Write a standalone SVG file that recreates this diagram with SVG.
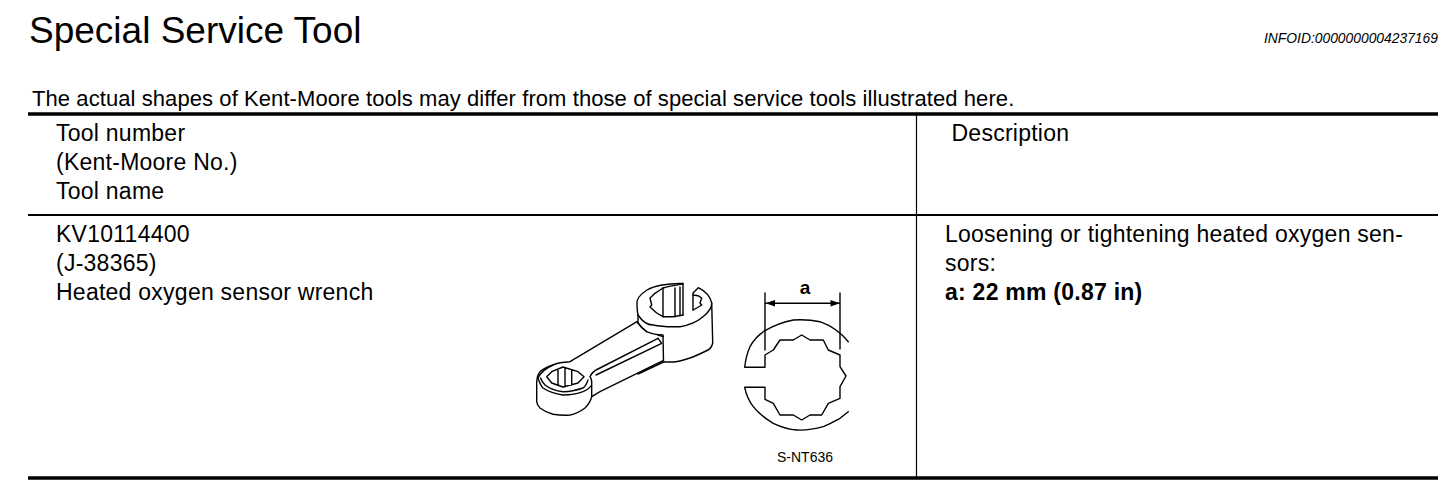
<svg xmlns="http://www.w3.org/2000/svg" width="1456" height="492" viewBox="0 0 1456 492">
<style>
text{font-family:"Liberation Sans",Arial,sans-serif;fill:#000}
.b{font-size:23px;letter-spacing:.25px}
.t{font-size:22px;letter-spacing:.08px}
.h{font-size:37px}
.l{fill:none;stroke:#000;stroke-width:1.4;stroke-linejoin:round;stroke-linecap:round}
</style>
<rect width="1456" height="492" fill="#fff"/>
<g id="heading"><text class="h" x="29" y="43">Special Service Tool</text>
<text x="1264" y="43" font-size="13.850" font-style="italic">INFOID:0000000004237169</text>
<text class="t" x="32" y="106">The actual shapes of Kent-Moore tools may differ from those of special service tools illustrated here.</text></g>
<g id="table"><path d="M28 114H1438M28 478H1438" stroke="#000" stroke-width="3.500"/><path d="M28 215H1438" stroke="#000" stroke-width="2"/><path d="M916.500 114V478" stroke="#000" stroke-width="1.200"/></g>
<g id="header-tool"><text class="b" x="56" y="141">Tool number</text><text class="b" x="56" y="170">(Kent-Moore No.)</text><text class="b" x="56" y="199">Tool name</text></g>
<g id="header-desc"><text class="b" x="951.500" y="141">Description</text></g>
<g id="row-tool"><text class="b" x="56" y="242">KV10114400</text><text class="b" x="56" y="271">(J-38365)</text><text class="b" x="56" y="300">Heated oxygen sensor wrench</text></g>
<g id="row-desc"><text class="b" x="945" y="242">Loosening or tightening heated oxygen sen-</text><text class="b" x="945" y="271">sors:</text><text class="b" x="945" y="300" font-weight="bold">a: 22 mm (0.87 in)</text></g>
<g id="wrench" class="l">
<path d="M683 283.500C668 283 654 286 647 290C639 295 636 300 637 305C637 310 638 315 638 315C642 321 648 325 653 325C662 327 671 327 680 326.700C690 325 698 321 703 316.700C709 312 712 308 711.700 303C710 296 705 291 698.300 287.700L693 293V310"/>
<path d="M683 283.500V315M680 287V315.500M675 288V316.700M663 288V316.700M663 288C670 286 677 285 683 284"/>
<path d="M663 288L655 293.300L650 298L651.700 305L650 307L656.700 313L663 316.700H673L683 315"/>
<path d="M693 295L698 295.700L701.700 298L700 303L701.700 305L696.700 308L693 310"/>
<path d="M711.700 303L712.700 343C712 346 710 349 708 350C702 353 696 356 690 358C684 360 678 362 673 362H663.500L638 374"/>
<path d="M638 315V323C640 326 643 329 646.700 331.700C652 334 658 335 663 335L663.500 362"/>
<path d="M637 321.700L570 361.700C563 362 557 363 553 365C547 367 543 369 540 371.700C538 374 537 378 536.700 381.700V401.700C537 404 538 406 540 408C544 411 548 413 553 414.300C558 415 564 415.500 570 415C576 414 581 411 585 408C589 404 591 400 591.700 396.700L600 391.700L663 360.700"/>
<path d="M591.700 385V396.700M538 378C540 384 541 386 543 388C549 392 556 394 563 395C570 395 577 394 583 391.700C587 390 590 388 591.700 385C592 381 591 378 590 376.700C592 372 594 371 597 369.500L658 338.300"/>
<path d="M538 378C541 372 546 368 553 365M540.700 378C541.500 381 543 383 545 385C550 389 556 391 563 391.700C570 392 577 390 583 388C586 386 587 383 588 380"/>
<path d="M546.700 376.700L551.700 371.700L563 367L578 371.700L584 376.700L578 383L563 387L551.700 383ZM558 370V385M565 368V387M571.700 370V385"/>
<path d="M596 375L661.700 343.300M658 338.300L661.700 343.300M663 336.700L658 335M637 321.700C640 326 643 329 646.700 331.700"/>
</g>
<g id="section"><path class="l" d="M765 293V350M840 293V349M766 303.300H840"/><path d="M765.500 303.300L775 300V306.600ZM840 303.300L830.500 300V306.600Z"/><text x="805" y="294" font-size="19" font-weight="bold" text-anchor="middle">a</text>
<path class="l" d="M848.300 341.700C840 331.700 832 326 820 321.700C812 320 802 319.500 793.300 320C783 322 773 326 765 330.700C758 335 753 341 750 346.700C747 353 745.500 360 744.700 367.300H765V355L773.300 350L780 340H793.300L801.700 335L810 340H823.300L828.300 350L840 355V366.700L846 376L840 386.700V398.300L828.300 403.300L821.700 415H810L801.700 420L793.300 415H780L773.300 403.300L765 399.300V387.300H744.700C746 394 749 401 753.300 406.700C759 414 766 419 773.300 423.300C781 427 789 429.500 796.700 430C806 430.500 815 429 823.300 426.700C830 424 835 421 840 418.300L848.300 411.700"/>
<text x="777" y="462" font-size="14">S-NT636</text></g>
</svg>
